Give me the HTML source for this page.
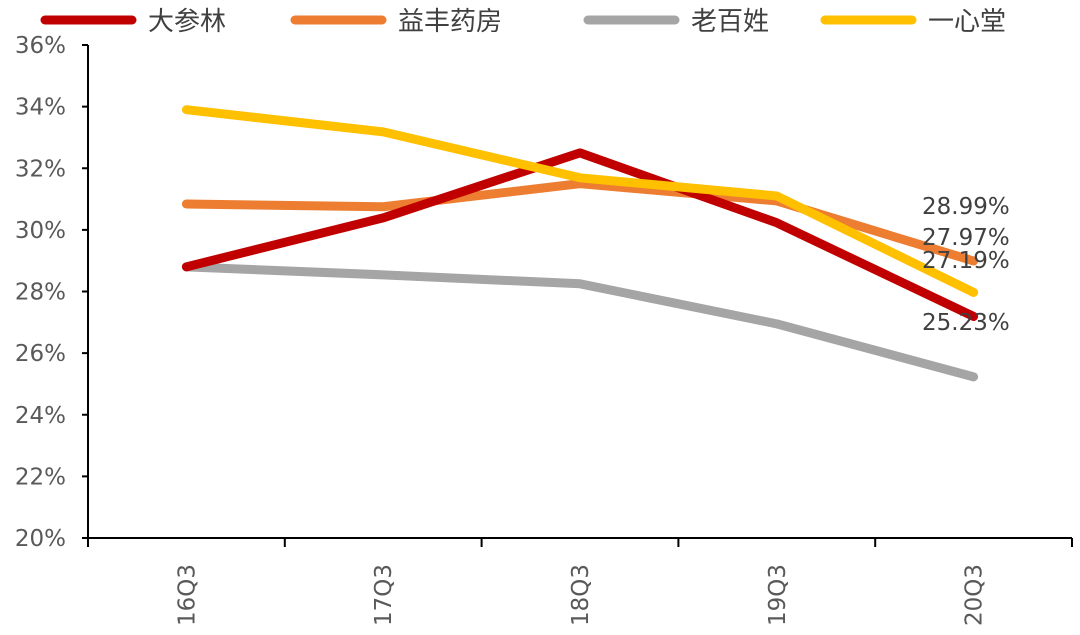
<!DOCTYPE html>
<html><head><meta charset="utf-8"><style>
html,body{margin:0;padding:0;background:#fff;width:1080px;height:635px;overflow:hidden}
text{font-family:"DejaVu Sans","Noto Sans CJK SC",sans-serif}
</style></head><body>
<svg id="chart" width="1080" height="635" xmlns="http://www.w3.org/2000/svg"></svg>
<script>
const categories=["16Q3","17Q3","18Q3","19Q3","20Q3"];
const seriesNames=["大参林","益丰药房","老百姓","一心堂"];
const dashenlin=[28.8,30.39,32.5,30.23,27.19];
const yifeng=[30.84,30.75,31.5,30.94,28.99];
const laobaixing=[28.8,28.54,28.25,26.95,25.23];
const yixintang=[33.9,33.18,31.69,31.1,27.97];
const yTicks=[20,22,24,26,28,30,32,34,36];
const endLabels=["28.99%","27.97%","27.19%","25.23%"];
const colors=["#C00000","#ED7D31","#A5A5A5","#FFC000"];
const NS="http://www.w3.org/2000/svg";
const svg=document.getElementById('chart');
const x0=88,x1=1072,yTop=45,yBot=538;
const step=(x1-x0)/categories.length;
const xs=i=>x0+step*(i+0.5);
const ys=v=>yBot-(v-20)/16*(yBot-yTop);
function mk(t,a){const e=document.createElementNS(NS,t);for(const k in a)e.setAttribute(k,a[k]);svg.appendChild(e);return e;}
let ya=mk('line',{x1:x0,y1:yTop,x2:x0,y2:yBot,stroke:'#000','stroke-width':2});


let xa=mk('line',{x1:x0,y1:yBot,x2:x1,y2:yBot,stroke:'#000','stroke-width':2});


yTicks.forEach(v=>{
 const tk=mk('line',{x1:x0-6,y1:ys(v),x2:x0,y2:ys(v),stroke:'#000','stroke-width':2});
 
 
 const t=mk('text',{x:x0-22,y:ys(v)+8,'text-anchor':'end','font-size':23,fill:'#595959'});
 t.textContent=v+'%';
 
 
});
for(let i=0;i<=categories.length;i++){
 const tk=mk('line',{x1:x0+step*i,y1:yBot,x2:x0+step*i,y2:yBot+9,stroke:'#000','stroke-width':2});
 
 
}
categories.forEach((c,i)=>{
 const t=mk('text',{x:0,y:0,'text-anchor':'end','font-size':23,fill:'#595959',transform:`translate(${xs(i)+8},${yBot+26}) rotate(-90)`});
 t.textContent=c;
 
 
});
const data=[dashenlin,yifeng,laobaixing,yixintang];
const order=[2,1,0,3];
order.forEach(s=>{
 const p=mk('polyline',{points:data[s].map((v,i)=>xs(i)+','+ys(v)).join(' '),fill:'none',stroke:colors[s],'stroke-width':9,'stroke-linejoin':'round','stroke-linecap':'round'});
 
 
});
const labelY=[214,245,268,330];
endLabels.forEach((l,i)=>{
 const t=mk('text',{x:922,y:labelY[i],'font-size':23,fill:'#404040'});
 t.textContent=l;
 
 
});
const legX=[40,290,583,820];
seriesNames.forEach((n,i)=>{
 const l=mk('line',{x1:legX[i]+5,y1:20,x2:legX[i]+92,y2:20,stroke:colors[i],'stroke-width':9,'stroke-linecap':'round'});
 
 
 const t=mk('text',{x:legX[i]+108,y:30,'font-size':26,fill:'#404040'});
 t.textContent=n;
 
 
});
</script>
</body></html>
